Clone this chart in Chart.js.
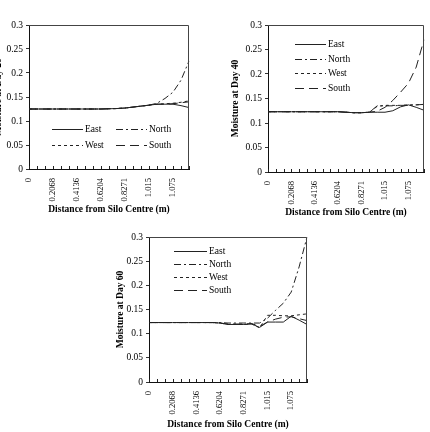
<!DOCTYPE html>
<html lang="en">
<head>
<meta charset="UTF-8">
<title>Moisture by Distance from Silo Centre</title>
<script src="https://cdn.jsdelivr.net/npm/chart.js@4.4.0/dist/chart.umd.min.js"></script>
<style>
    body { margin: 0; background: #fff; }
    #page { position: relative; width: 430px; height: 432px; overflow: hidden; background: #fff; }
    canvas { position: absolute; }
</style>
</head>
<body>
<div id="page">
    <canvas id="day20" width="206" height="217" style="left:-9px; top:0px;"></canvas>
    <canvas id="day40" width="202" height="220" style="left:228px; top:0px;"></canvas>
    <canvas id="day60" width="200" height="220" style="left:113px; top:212px;"></canvas>
</div>

<script>
// distance from silo centre (m), 21 grid points; every 3rd one is labelled
var distances = ['0', '0.0689', '0.1379', '0.2068', '0.2757', '0.3447', '0.4136', '0.4825', '0.5515',
    '0.6204', '0.6893', '0.7582', '0.8271', '0.8897', '0.9524', '1.015', '1.035', '1.055', '1.075', '1.095', '1.115'];
var yTicks = [0, 0.05, 0.1, 0.15, 0.2, 0.25, 0.3];
var seriesNames = ['East', 'North', 'West', 'South'];

// Day 20
var east20  = [0.125, 0.125, 0.125, 0.125, 0.125, 0.125, 0.125, 0.125, 0.125, 0.125, 0.1255, 0.126, 0.127, 0.129, 0.131, 0.133, 0.135, 0.135, 0.135, 0.132, 0.128];
var north20 = [0.125, 0.125, 0.125, 0.125, 0.125, 0.125, 0.125, 0.125, 0.125, 0.125, 0.1255, 0.126, 0.127, 0.129, 0.131, 0.133, 0.137, 0.147, 0.160, 0.185, 0.225];
var west20  = [0.125, 0.125, 0.125, 0.125, 0.125, 0.125, 0.125, 0.125, 0.125, 0.125, 0.1255, 0.126, 0.127, 0.129, 0.131, 0.133, 0.135, 0.136, 0.137, 0.139, 0.142];
var south20 = [0.125, 0.125, 0.125, 0.125, 0.125, 0.125, 0.125, 0.125, 0.125, 0.125, 0.1255, 0.126, 0.127, 0.129, 0.131, 0.133, 0.135, 0.135, 0.136, 0.138, 0.140];

// Day 40
var east40  = [0.123, 0.123, 0.123, 0.123, 0.123, 0.123, 0.123, 0.123, 0.123, 0.123, 0.122, 0.121, 0.121, 0.122, 0.122, 0.122, 0.125, 0.133, 0.137, 0.132, 0.126];
var north40 = [0.123, 0.123, 0.123, 0.123, 0.123, 0.123, 0.123, 0.123, 0.123, 0.123, 0.122, 0.121, 0.121, 0.122, 0.135, 0.135, 0.135, 0.136, 0.136, 0.137, 0.138];
var west40  = [0.123, 0.123, 0.123, 0.123, 0.123, 0.123, 0.123, 0.123, 0.123, 0.123, 0.122, 0.121, 0.121, 0.122, 0.134, 0.136, 0.136, 0.136, 0.137, 0.137, 0.138];
var south40 = [0.123, 0.123, 0.123, 0.123, 0.123, 0.123, 0.123, 0.123, 0.123, 0.123, 0.122, 0.121, 0.121, 0.122, 0.124, 0.132, 0.146, 0.163, 0.181, 0.214, 0.270];

// Day 60
var east60  = [0.123, 0.123, 0.123, 0.123, 0.123, 0.123, 0.123, 0.123, 0.123, 0.122, 0.119, 0.119, 0.119, 0.120, 0.113, 0.124, 0.124, 0.124, 0.136, 0.128, 0.119];
var north60 = [0.123, 0.123, 0.123, 0.123, 0.123, 0.123, 0.123, 0.123, 0.123, 0.123, 0.122, 0.122, 0.122, 0.122, 0.122, 0.132, 0.148, 0.163, 0.186, 0.238, 0.300];
var west60  = [0.123, 0.123, 0.123, 0.123, 0.123, 0.123, 0.123, 0.123, 0.123, 0.122, 0.119, 0.119, 0.119, 0.120, 0.112, 0.138, 0.138, 0.137, 0.137, 0.139, 0.141];
var south60 = [0.123, 0.123, 0.123, 0.123, 0.123, 0.123, 0.123, 0.123, 0.123, 0.122, 0.120, 0.120, 0.120, 0.121, 0.115, 0.124, 0.130, 0.134, 0.135, 0.131, 0.127];

var dashes = [[], [7, 3, 2, 3], [3, 3], [9, 5]];
var serif = "'Liberation Serif', 'DejaVu Serif', serif";

// legend drawn inside the plot area, like the original figures
const innerLegend = {
    id: 'innerLegend',
    afterDraw(chart, args, opts) {
        const ctx = chart.ctx;
        const a = chart.chartArea;
        ctx.save();
        ctx.font = '9.5px ' + serif;
        ctx.textBaseline = 'middle';
        ctx.fillStyle = '#000';
        chart.data.datasets.forEach(function (ds, i) {
            const p = opts.items[i];
            const x0 = a.left + p[0], y = a.top + p[1];
            ctx.strokeStyle = '#222';
            ctx.lineWidth = 1;
            ctx.setLineDash(ds.borderDash);
            ctx.beginPath();
            ctx.moveTo(x0, y + 0.5);
            ctx.lineTo(x0 + opts.lineLen, y + 0.5);
            ctx.stroke();
            ctx.setLineDash([]);
            ctx.fillText(ds.label, x0 + opts.lineLen + 2, y);
        });
        ctx.restore();
    }
};

// box round the plot, and small tick marks pointing up into it from the x axis
const frame = {
    id: 'frame',
    afterDatasetsDraw(chart) {
        const a = chart.chartArea, ctx = chart.ctx, xs = chart.scales.x;
        ctx.save();
        ctx.strokeStyle = '#444';
        ctx.lineWidth = 1;
        ctx.beginPath();
        ctx.moveTo(a.left, a.top + 0.5);
        ctx.lineTo(a.right - 0.5, a.top + 0.5);
        ctx.lineTo(a.right - 0.5, a.bottom);
        ctx.stroke();
        ctx.strokeStyle = '#222';
        ctx.beginPath();
        xs.ticks.forEach(function (t, i) {
            const px = Math.round(xs.getPixelForTick(i)) + 0.5;
            ctx.moveTo(px, a.bottom);
            ctx.lineTo(px, a.bottom - 3);
        });
        ctx.stroke();
        ctx.restore();
    }
};

function makeChart(id, yTitle, series, sizes, legend) {
    const datasets = series.map(function (vals, i) {
        return {
            label: seriesNames[i],
            data: vals,
            borderColor: '#222',
            borderWidth: 1,
            borderDash: dashes[i],
            pointRadius: 0,
            fill: false,
            tension: 0
        };
    });

    return new Chart(document.getElementById(id), {
        type: 'line',
        data: { labels: distances, datasets: datasets },
        plugins: [innerLegend, frame],
        options: {
            responsive: false,
            animation: false,
            layout: { padding: { top: sizes.top, right: sizes.right, left: 0, bottom: 0 } },
            plugins: {
                legend: { display: false },
                tooltip: { enabled: false },
                innerLegend: legend
            },
            scales: {
                x: {
                    offset: false,
                    border: { color: '#111', width: 1 },
                    grid: { display: false },
                    ticks: {
                        autoSkip: false,
                        minRotation: 90,
                        maxRotation: 90,
                        padding: 1,
                        color: '#000',
                        font: { family: serif, size: 8.5 },
                        callback: function (v, i) { return i % 3 === 0 ? distances[i] : ''; }
                    },
                    title: {
                        display: true,
                        text: 'Distance from Silo Centre (m)',
                        color: '#000',
                        font: { family: serif, size: 9.5, weight: 'bold' },
                        padding: { top: 0, bottom: 2 }
                    },
                    afterFit: function (s) {
                        s.height = sizes.xh;
                        s.paddingLeft = 0;
                        s.paddingRight = 0;
                    }
                },
                y: {
                    min: 0,
                    max: 0.3,
                    border: { color: '#111', width: 1 },
                    grid: { drawOnChartArea: false, tickLength: 3, color: '#333' },
                    afterBuildTicks: function (s) { s.ticks = yTicks.map(function (v) { return { value: v }; }); },
                    ticks: {
                        padding: 3,
                        color: '#000',
                        font: { family: serif, size: 9.5 },
                        callback: function (v) { return String(v); }
                    },
                    title: {
                        display: true,
                        text: yTitle,
                        color: '#000',
                        font: { family: serif, size: 9.5, weight: 'bold' },
                        padding: { top: 2, bottom: 0 }
                    },
                    afterFit: function (s) {
                        s.width = sizes.yw;
                        s.paddingTop = 0;
                        s.paddingBottom = 0;
                    }
                }
            }
        }
    });
}

makeChart('day20', 'Moisture at Day 20', [east20, north20, west20, south20],
    { top: 25, right: 8, xh: 48, yw: 38 },
    { lineLen: 31, items: [[23, 104], [87, 104], [23, 120], [87, 120]] });

makeChart('day40', 'Moisture at Day 40', [east40, north40, west40, south40],
    { top: 25, right: 6, xh: 48, yw: 40 },
    { lineLen: 31, items: [[27, 19], [27, 34], [27, 48], [27, 63]] });

makeChart('day60', 'Moisture at Day 60', [east60, north60, west60, south60],
    { top: 25, right: 6, xh: 50, yw: 36 },
    { lineLen: 33, items: [[25, 14], [25, 27], [25, 40], [25, 53]] });
</script>
</body>
</html>
